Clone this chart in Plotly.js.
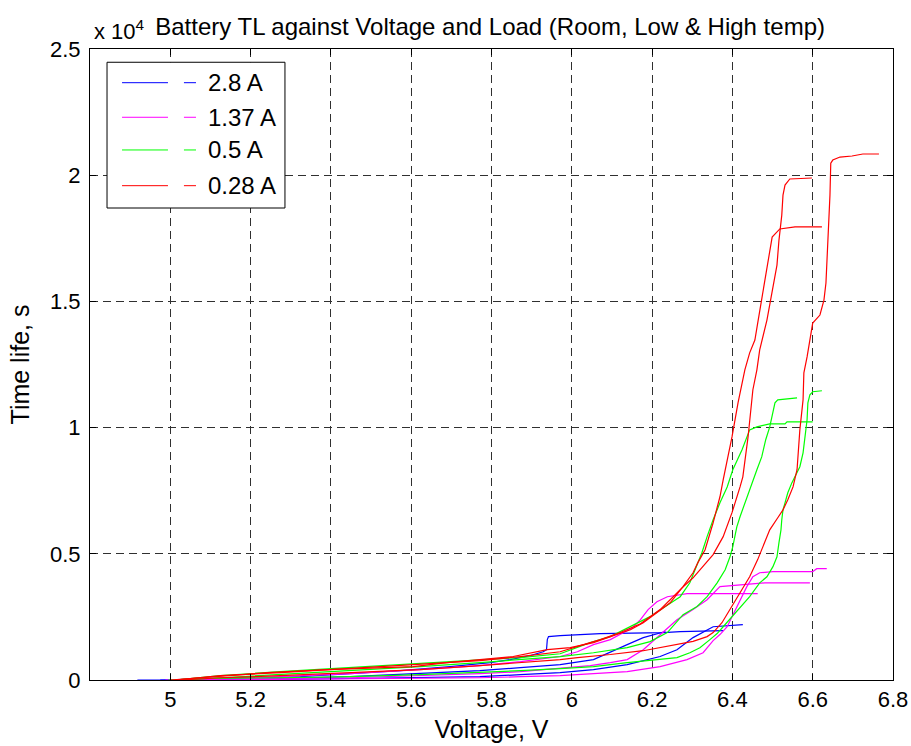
<!DOCTYPE html>
<html><head><meta charset="utf-8">
<script src="https://cdn.plot.ly/plotly-3.0.1.min.js"></script>
<style>html,body{margin:0;padding:0;background:#fff}</style>
</head><body><div id="chart" style="width:911px;height:746px"></div>
<script>
// ---- data (Voltage V, time life s) ----
const seriesLabels = ['2.8 A', '1.37 A', '0.5 A', '0.28 A'];
const seriesColors = ['#0000ff', '#ff00ff', '#00ff00', '#ff0000'];

// 2.8 A
const blue1V = [5.025,5.199,5.324,5.448,5.573,5.697,5.797,5.847,5.897,5.929,5.937,5.939,5.942,5.971,6.071,6.228,6.270,6.377];
const blue1T = [0,60,130,250,370,530,690,810,970,1120,1200,1600,1720,1760,1840,1880,1920,1960];
const blue2V = [4.918,5.199,5.448,5.622,5.771,5.872,5.971,6.054,6.138,6.220,6.262,6.302,6.327,6.352,6.426];
const blue2T = [0,0,60,90,130,210,290,410,610,930,1200,1680,1880,2110,2190];
const blue3V = [4.975,5.274,5.448,5.622,5.771,5.872,5.971,6.054,6.096,6.138,6.178,6.220,6.233];
const blue3T = [0,60,130,250,370,490,610,810,1120,1400,1680,1880,1920];

// 1.37 A
const mag1V = [5.075,5.448,5.622,5.771,5.872,5.971,6.054,6.138,6.220,6.287,6.327,6.352,6.369,6.387,6.399,6.411,6.424,6.436,6.451,6.468,6.501,6.600,6.610,6.635];
const mag1T = [0,40,60,90,130,170,250,330,530,810,1080,1560,1800,2110,2510,2910,3300,3700,4090,4250,4290,4290,4410,4410];
const mag2V = [5.050,5.199,5.448,5.622,5.771,5.872,5.971,6.046,6.096,6.138,6.178,6.220,6.262,6.302,6.337,6.369,6.426,6.481,6.593];
const mag2T = [0,60,90,170,250,330,450,570,690,810,1200,1800,2390,2790,3180,3700,3780,3850,3850];
const mag3V = [4.988,5.075,5.274,5.448,5.622,5.771,5.872,5.971,6.014,6.054,6.096,6.128,6.151,6.171,6.190,6.212,6.238,6.287,6.463];
const mag3T = [0,60,130,250,410,570,730,930,1120,1400,1600,1880,2070,2390,2790,3100,3300,3420,3420];

// 0.5 A
const green1V = [4.995,5.075,5.274,5.448,5.622,5.771,5.872,5.971,6.054,6.138,6.220,6.262,6.294,6.319,6.344,6.362,6.377,6.401,6.419,6.443,6.468,6.486,6.501,6.511,6.516,6.521,6.523,6.526,6.531,6.538,6.548,6.561,6.568,6.576,6.581,6.586,6.588,6.593,6.600,6.623];
const green1T = [0,60,90,130,210,290,370,450,530,690,810,890,1080,1280,1600,1840,2110,2550,2870,3300,3850,4090,4490,4880,5440,5950,6350,6740,7020,7420,7810,8210,8450,9000,9630,10310,10980,11300,11420,11460];
const green2V = [5.012,5.125,5.274,5.448,5.622,5.771,5.872,5.971,6.046,6.096,6.146,6.195,6.233,6.270,6.294,6.307,6.324,6.337,6.352,6.369,6.387,6.401,6.424,6.443,6.461,6.493,6.531,6.536,6.600];
const green2T = [0,170,330,490,650,770,890,1040,1480,1720,2110,2510,2910,3300,3850,4370,5040,5680,6350,7020,7650,8330,9120,9910,10030,10150,10150,10230,10230];
const green3V = [5.025,5.125,5.274,5.448,5.622,5.771,5.872,5.971,6.054,6.138,6.195,6.238,6.277,6.312,6.337,6.362,6.382,6.394,6.401,6.411,6.419,6.431,6.448,6.461,6.473,6.483,6.493,6.501,6.506,6.513,6.561];
const green3T = [0,90,210,370,530,690,810,930,1080,1280,1520,1880,2590,2910,3300,3850,4370,4880,5280,6070,6470,7020,7810,8330,8840,9520,10030,10700,10980,11100,11180];

// 0.28 A
const red1V = [5.025,5.125,5.274,5.448,5.622,5.771,5.872,5.971,6.014,6.096,6.178,6.245,6.302,6.337,6.352,6.374,6.394,6.419,6.443,6.463,6.476,6.493,6.513,6.526,6.538,6.551,6.561,6.568,6.576,6.578,6.586,6.600,6.618,6.628,6.633,6.638,6.643,6.645,6.650,6.668,6.698,6.725,6.765];
const red1T = [0,90,170,290,410,570,690,810,890,1010,1160,1360,1530,1720,1880,2270,2790,3460,4090,4770,5280,5950,6430,6740,7140,7650,8330,9910,11100,12170,12800,14140,14460,15050,15730,17310,19210,20480,20600,20720,20760,20840,20840];
const red2V = [5.012,5.125,5.274,5.448,5.622,5.771,5.872,5.971,6.021,6.071,6.121,6.171,6.195,6.220,6.245,6.270,6.302,6.327,6.352,6.377,6.399,6.419,6.426,6.439,6.451,6.461,6.468,6.486,6.499,6.511,6.516,6.523,6.526,6.531,6.543,6.598];
const red2T = [0,170,290,450,610,770,930,1120,1360,1600,1880,2230,2510,2790,3180,3580,4050,4530,4970,5680,6630,7650,8050,9630,11500,12290,13080,14260,15450,16440,17430,18420,19210,19610,19850,19890];
const red3V = [5.000,5.075,5.157,5.242,5.391,5.523,5.605,5.689,5.771,5.854,5.939,5.996,6.054,6.096,6.146,6.178,6.212,6.245,6.277,6.302,6.314,6.332,6.352,6.369,6.377,6.389,6.399,6.414,6.431,6.443,6.456,6.463,6.473,6.481,6.491,6.499,6.518,6.556,6.623];
const red3T = [0,90,210,290,410,490,530,690,810,930,1200,1280,1480,1720,1990,2270,2670,3060,3700,4250,4650,5160,6230,7260,7930,8840,9630,10980,12290,12960,13470,14140,15050,15850,16840,17550,17870,17950,17950];

const xTickVals = [5, 5.2, 5.4, 5.6, 5.8, 6, 6.2, 6.4, 6.6, 6.8];
const xTickText = ['5', '5.2', '5.4', '5.6', '5.8', '6', '6.2', '6.4', '6.6', '6.8'];
const yTickVals = [0, 5000, 10000, 15000, 20000, 25000];
const yTickText = ['0', '0.5', '1', '1.5', '2', '2.5'];

// ---- build ----
const FONT = 'Liberation Sans, Arial, Helvetica, sans-serif';
const groups = [
  [[blue1V, blue1T], [blue2V, blue2T], [blue3V, blue3T]],
  [[mag1V, mag1T], [mag2V, mag2T], [mag3V, mag3T]],
  [[green1V, green1T], [green2V, green2T], [green3V, green3T]],
  [[red1V, red1T], [red2V, red2T], [red3V, red3T]]
];
const traces = [];
groups.forEach((g, gi) => {
  g.forEach((run) => {
    traces.push({
      x: run[0], y: run[1], type: 'scatter', mode: 'lines',
      name: seriesLabels[gi], showlegend: false,
      line: {color: seriesColors[gi], width: 1.2},
      hoverinfo: 'skip'
    });
  });
});

// custom MATLAB-like legend (paper coords)
const shapes = [{
  type: 'rect', xref: 'paper', yref: 'paper',
  x0: 0.0212, x1: 0.2428, y0: 0.748, y1: 0.979,
  line: {color: 'black', width: 1}, fillcolor: 'white', layer: 'above'
}];
const annotations = [];
const rowY = [0.9466, 0.8918, 0.8400, 0.7834];
seriesLabels.forEach((lab, i) => {
  shapes.push({type: 'line', xref: 'paper', yref: 'paper', x0: 0.0399, x1: 0.0971, y0: rowY[i], y1: rowY[i],
    line: {color: seriesColors[i], width: 1}, layer: 'above'});
  shapes.push({type: 'line', xref: 'paper', yref: 'paper', x0: 0.117, x1: 0.132, y0: rowY[i], y1: rowY[i],
    line: {color: seriesColors[i], width: 1}, layer: 'above'});
  annotations.push({xref: 'paper', yref: 'paper', x: 0.1445, y: rowY[i], xanchor: 'left', yanchor: 'middle',
    text: lab, showarrow: false, font: {family: FONT, size: 24, color: 'black'}});
});
annotations.push({xref: 'paper', yref: 'paper', x: 0.0025, y: 1.030, xanchor: 'left', yanchor: 'middle',
  text: 'x 10<sup>4</sup>', showarrow: false, font: {family: FONT, size: 22, color: 'black'}});

const axisCommon = {
  showgrid: true, gridcolor: '#303030', gridwidth: 1, griddash: '8px,5px',
  showline: true, linecolor: 'black', linewidth: 1, mirror: 'ticks',
  ticks: 'inside', ticklen: 6, tickcolor: 'black', zeroline: false,
  tickfont: {family: FONT, size: 22, color: 'black'}, tickmode: 'array'
};

const layout = {
  width: 911, height: 746,
  margin: {l: 90, r: 18, t: 49, b: 66},
  paper_bgcolor: 'white', plot_bgcolor: 'white',
  font: {family: FONT, color: 'black'},
  title: {text: 'Battery TL against Voltage and Load (Room, Low & High temp)',
    x: 0.538, xref: 'container', xanchor: 'center', y: 0.965, yref: 'container', yanchor: 'middle',
    font: {family: FONT, size: 24, color: 'black'}},
  xaxis: Object.assign({}, axisCommon, {range: [4.8, 6.8], tickvals: xTickVals, ticktext: xTickText,
    title: {text: 'Voltage, V', font: {family: FONT, size: 25, color: 'black'}, standoff: 9}}),
  yaxis: Object.assign({}, axisCommon, {range: [0, 25000], tickvals: yTickVals, ticktext: yTickText,
    ticklabelstandoff: 4,
    title: {text: 'Time life, s', font: {family: FONT, size: 25, color: 'black'}, standoff: 13}}),
  shapes: shapes, annotations: annotations, showlegend: false
};

Plotly.newPlot('chart', traces, layout, {displayModeBar: false, staticPlot: true});
</script></body></html>
